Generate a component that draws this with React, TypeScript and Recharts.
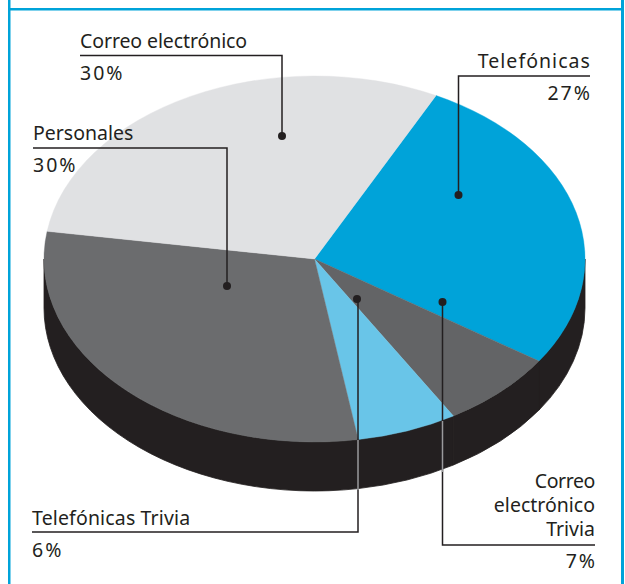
import { PieChart, Pie } from "recharts";

const categories = [
  "Telefónicas",
  "Correo electrónico Trivia",
  "Telefónicas Trivia",
  "Personales",
  "Correo electrónico",
];
const values = [27, 7, 6, 30, 30];
const colors = ["#00a3d9", "#636466", "#69c5e8", "#6b6c6e", "#e0e1e3"];

const tableData = categories.map((name, i) => ({ name, value: values[i], fill: colors[i] }));

const WIDTH = 625;
const HEIGHT = 584;
const TILT = 183 / 270.5; // vertical squash of the disc
const DEPTH = 49;
const INK = "#231f20";
const FONT = "'Noto Sans', sans-serif";

function point(cx: number, cy: number, r: number, deg: number) {
  const a = (deg * Math.PI) / 180;
  return [cx + r * Math.cos(a), cy - r * TILT * Math.sin(a)];
}

// top face: squashed sector
function TopSlice(props: any) {
  const { cx, cy, outerRadius: r, startAngle, endAngle, fill } = props;
  const [x0, y0] = point(cx, cy, r, startAngle);
  const [x1, y1] = point(cx, cy, r, endAngle);
  const large = Math.abs(startAngle - endAngle) > 180 ? 1 : 0;
  const d = `M${cx},${cy} L${x0},${y0} A${r},${r * TILT} 0 ${large} 1 ${x1},${y1} Z`;
  return <path d={d} fill={fill} stroke={fill} strokeWidth={0.4} />;
}

// side wall: only the front half of the rim (0 to -180 deg) is ever visible
function WallSlice(props: any) {
  const { cx, cy, outerRadius: r } = props;
  const from = Math.min(props.startAngle, 0);
  const to = Math.max(props.endAngle, -180);
  if (from <= to) return <g />;
  const [x0, y0] = point(cx, cy, r, from);
  const [x1, y1] = point(cx, cy, r, to);
  const rim = `A${r},${r * TILT} 0 0 1 ${x1},${y1}`;
  const back = `A${r},${r * TILT} 0 0 0 ${x0},${y0 + DEPTH}`;
  const d = `M${x0},${y0} ${rim} L${x1},${y1 + DEPTH} ${back} Z`;
  return <path d={d} fill={INK} stroke={INK} strokeWidth={0.8} />;
}

function Label({ x, y, children, end, spacing = 0 }: any) {
  return (
    <text
      x={x}
      y={y}
      textAnchor={end ? "end" : "start"}
      fontFamily={FONT}
      fontSize={19.5}
      letterSpacing={spacing}
      fill={INK}
    >
      {children}
    </text>
  );
}

function Leader({ points, dot }: { points: string; dot: [number, number] }) {
  return (
    <g>
      <polyline points={points} fill="none" stroke={INK} strokeWidth={1.5} />
      <circle cx={dot[0]} cy={dot[1]} r={4} fill={INK} />
    </g>
  );
}

function Annotations() {
  const pct = 2;
  return (
    <svg width={WIDTH} height={HEIGHT} style={{ position: "absolute", left: 0, top: 0 }}>
      <rect x={8} y={0} width={2.5} height={HEIGHT} fill="#00a3d9" />
      <rect x={621} y={0} width={3} height={HEIGHT} fill="#00a3d9" />
      <rect x={8} y={8} width={616} height={2.5} fill="#00a3d9" />

      <Leader points="80,55.5 282,55.5 282,136" dot={[282, 136]} />
      <Label x={80} y={48} spacing={-0.1}>{categories[4]}</Label>
      <Label x={80} y={80} spacing={pct}>{values[4]}%</Label>

      <Leader points="33,148 227,148 227,286" dot={[227, 286]} />
      <Label x={33} y={140}>{categories[3]}</Label>
      <Label x={33} y={172} spacing={pct}>{values[3]}%</Label>

      <Leader points="590,76 458.5,76 458.5,195" dot={[458.5, 195]} />
      <Label x={591} y={68} end spacing={1.05}>{categories[0]}</Label>
      <Label x={592} y={100} end spacing={pct}>{values[0]}%</Label>

      <Leader points="32,532 358,532 358,299" dot={[357, 299]} />
      <line x1={358} y1={440} x2={358} y2={490} stroke="#9a9a9c" strokeWidth={1.5} />
      <Label x={32} y={525} spacing={0.15}>{categories[2]}</Label>
      <Label x={32} y={557} spacing={pct}>{values[2]}%</Label>

      <Leader points="595,545 442.5,545 442.5,302" dot={[442.5, 302]} />
      <line x1={442.5} y1={421} x2={442.5} y2={472} stroke="#9a9a9c" strokeWidth={1.5} />
      <Label x={595} y={488} end spacing={-0.4}>Correo</Label>
      <Label x={595} y={512} end>electrónico</Label>
      <Label x={595} y={536} end>Trivia</Label>
      <Label x={597} y={568} end spacing={pct}>{values[1]}%</Label>
    </svg>
  );
}

export default function App() {
  return (
    <div style={{ position: "absolute", left: 0, top: 0, width: WIDTH, height: HEIGHT, background: "#fff" }}>
      <PieChart width={WIDTH} height={HEIGHT} margin={{ top: 0, right: 0, bottom: 0, left: 0 }}>
        <Pie
          data={tableData}
          dataKey="value"
          nameKey="name"
          cx={314.5}
          cy={259}
          outerRadius={270.5}
          startAngle={63.3}
          endAngle={-296.7}
          shape={WallSlice}
          isAnimationActive={false}
        />
        <Pie
          data={tableData}
          dataKey="value"
          nameKey="name"
          cx={314.5}
          cy={259}
          outerRadius={270.5}
          startAngle={63.3}
          endAngle={-296.7}
          shape={TopSlice}
          isAnimationActive={false}
        />
      </PieChart>
      <Annotations />
    </div>
  );
}
